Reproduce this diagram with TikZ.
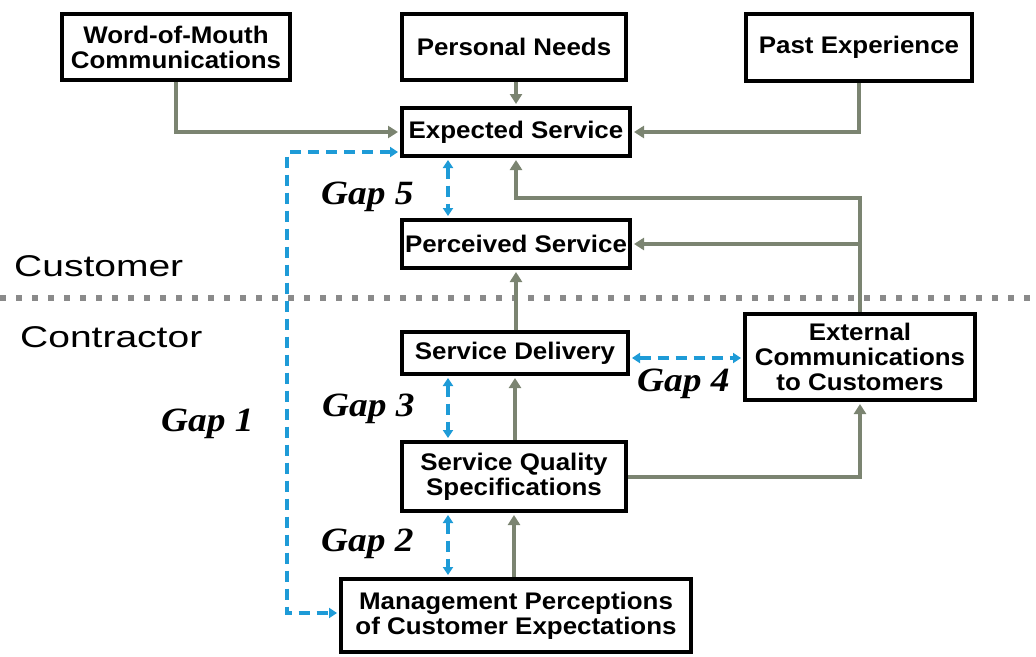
\documentclass[tikz,border=0pt]{standalone}
\usepackage{fontspec}
\setmainfont{Liberation Sans}[FakeStretch=1.08]
\newfontfamily\sidefont{Liberation Sans}[FakeStretch=1.3]
\newfontfamily\gapfont{Liberation Serif}[FakeStretch=1.1]
\usetikzlibrary{arrows.meta}
\definecolor{cgray}{HTML}{7B8471}
\definecolor{cblue}{HTML}{1E9BD7}
\definecolor{csep}{HTML}{8A8A8A}
\begin{document}
\begin{tikzpicture}[x=1pt,y=-1pt,
 box/.style={draw=black, line width=4pt, fill=white, align=center, inner sep=0pt,
   font=\fontsize{24}{25}\selectfont\bfseries},
 flow/.style={draw=cgray, line width=4pt, shorten >=2pt, -{Triangle[width=12pt,length=10pt]}},
 gaparrow/.style={draw=cblue, line width=3.3pt, dash pattern=on 11pt off 7pt, shorten >=2pt, shorten <=2pt,
   {Triangle[width=10pt,length=8pt]}-{Triangle[width=10pt,length=8pt]}},
 gaplabel/.style={anchor=base west, inner sep=0pt, font=\gapfont\fontsize{34}{34}\selectfont\bfseries\itshape},
 side/.style={anchor=base west, inner sep=0pt, font=\sidefont\fontsize{30}{30}\selectfont}]
\useasboundingbox (0,0) rectangle (1036,656);
% separator
\draw[csep, line width=6pt, dash pattern=on 6pt off 10pt] (0,298) -- (1036,298);
% boxes
\node[box, minimum width=228pt, minimum height=66pt] (wom) at (176,47) {Word-of-Mouth\\Communications};
\node[box, minimum width=224pt, minimum height=66pt] (pn) at (514,47) {Personal Needs};
\node[box, minimum width=226pt, minimum height=67pt] (pe) at (859,47.5) {Past Experience};
\node[box, minimum width=228pt, minimum height=48pt] (es) at (516,132) {Expected Service};
\node[box, minimum width=228pt, minimum height=48pt] (ps) at (516,244) {Perceived Service};
\node[box, minimum width=226pt, minimum height=42pt] (sd) at (515,353) {Service Delivery};
\node[box, minimum width=224pt, minimum height=69pt] (sqs) at (514,476.5) {Service Quality\\Specifications};
\node[box, minimum width=350pt, minimum height=73pt] (mp) at (516,615.5) {Management Perceptions\\of Customer Expectations};
\node[box, minimum width=230pt, minimum height=86pt] (ec) at (860,357) {External\\Communications\\to Customers};
% flows
\draw[flow] (wom.south) |- (es.west);
\draw[flow] (pn.south -| es.north) -- (es.north);
\draw[flow] (pe.south) |- (es.east);
\draw[flow] (ec.north) -- (ec.north |- 0,198) -| (es.south);
\draw[flow] (ec.north |- ps.east) -- (ps.east);
\draw[flow] (ps.south |- sd.north) -- (ps.south);
\draw[flow] (sd.south |- sqs.north) -- (sd.south);
\draw[flow] (sqs.south |- mp.north) -- (sqs.south);
\draw[flow] (sqs.east) -| (ec.south);
% gaps
\draw[gaparrow] (es.west |- 0,152) -| (287,613) -- (mp.west |- 0,613);
\draw[gaparrow] (es.south -| 448,0) -- (ps.north -| 448,0);
\draw[gaparrow] (sd.south -| 448,0) -- (sqs.north -| 448,0);
\draw[gaparrow] (sqs.south -| 448,0) -- (mp.north -| 448,0);
\draw[gaparrow] (sd.east |- 0,358) -- (ec.west |- 0,358);
% labels
\node[side] (cust) at (14,276) {Customer};
\node[side] (contr) at (20,347) {Contractor};
\node[gaplabel] (g5) at (321,204) {Gap 5};
\node[gaplabel] (g3) at (322,416) {Gap 3};
\node[gaplabel] (g4) at (637,391) {Gap 4};
\node[gaplabel] (g1) at (161,431) {Gap 1};
\node[gaplabel] (g2) at (321,551) {Gap 2};
\end{tikzpicture}
\end{document}
